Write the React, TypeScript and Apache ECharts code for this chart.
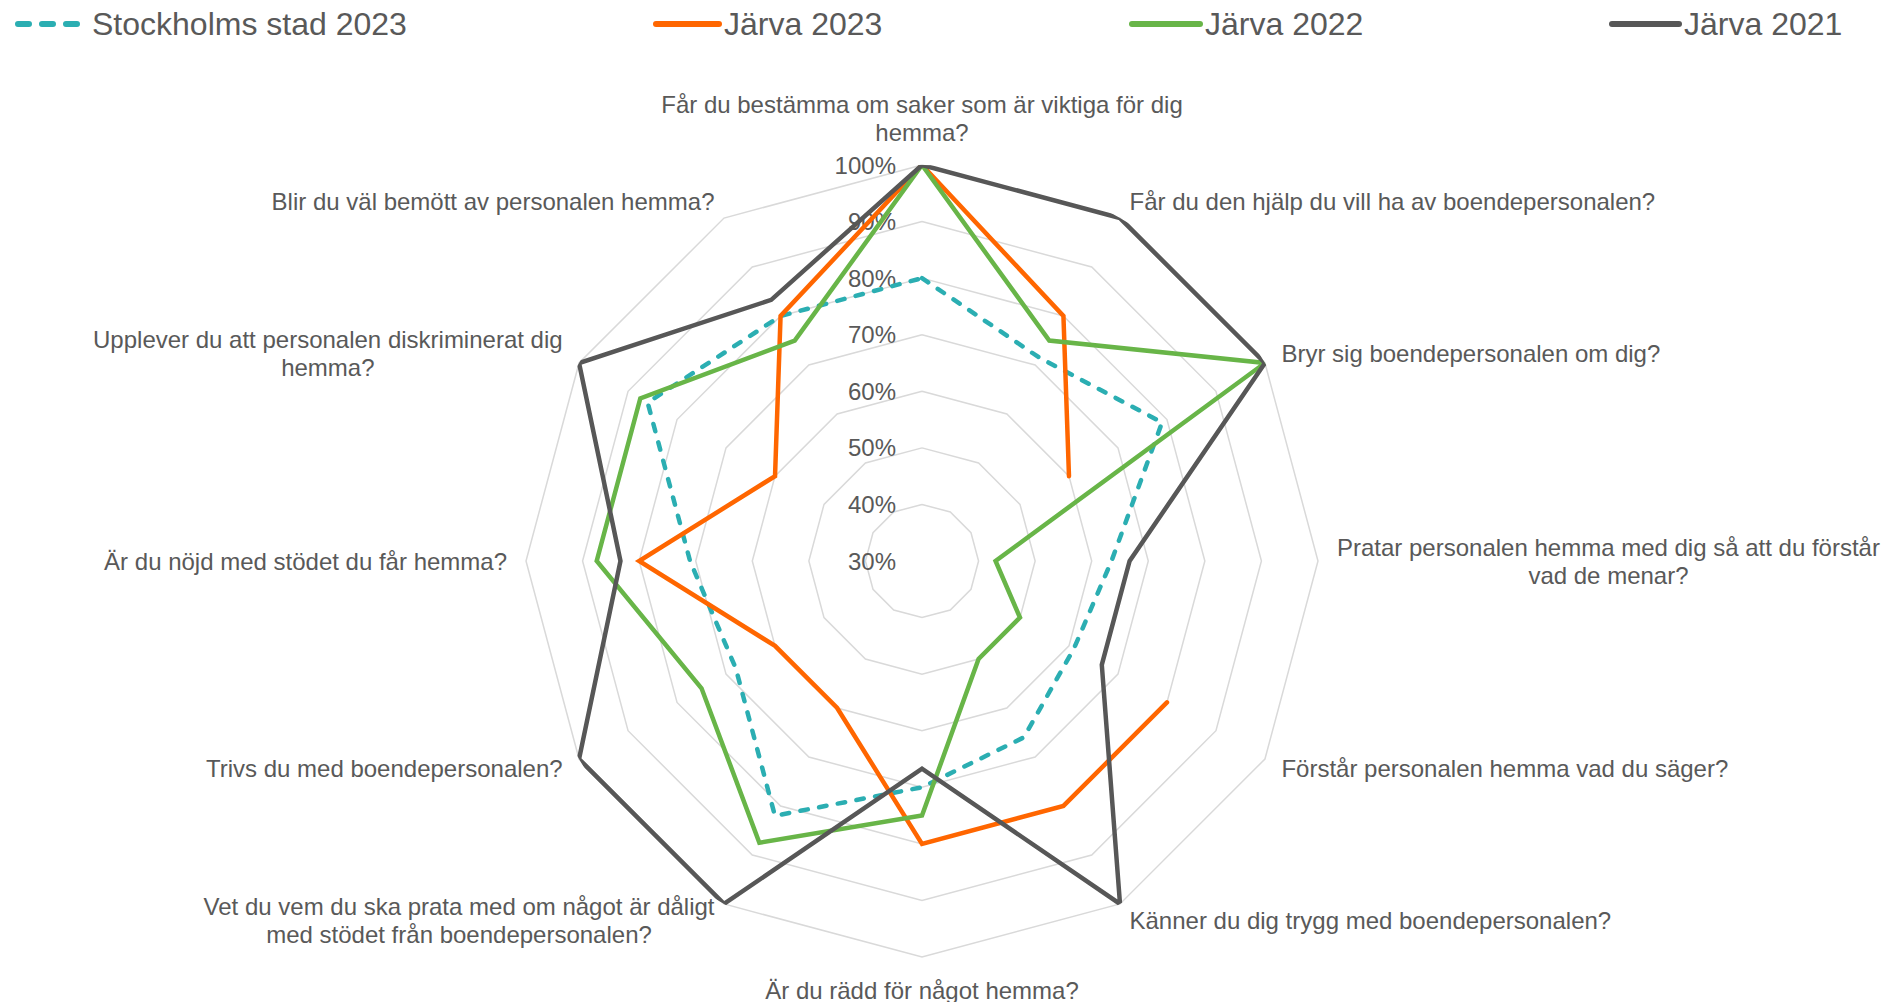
import React, { useEffect, useRef } from "react";
import * as echarts from "echarts";

// ---- Data -------------------------------------------------------------
const categories: string[] = [
  "Får du bestämma om saker som är viktiga för dig\nhemma?",
  "Får du den hjälp du vill ha av boendepersonalen?",
  "Bryr sig boendepersonalen om dig?",
  "Pratar personalen hemma med dig så att du förstår\nvad de menar?",
  "Förstår personalen hemma vad du säger?",
  "Känner du dig trygg med boendepersonalen?",
  "Är du rädd för något hemma?",
  "Vet du vem du ska prata med om något är dåligt\nmed stödet från boendepersonalen?",
  "Trivs du med boendepersonalen?",
  "Är du nöjd med stödet du får hemma?",
  "Upplever du att personalen diskriminerat dig\nhemma?",
  "Blir du väl bemött av personalen hemma?",
];

const seriesNames = ["Stockholms stad 2023", "Järva 2023", "Järva 2022", "Järva 2021"];

const stockholm2023: (number | null)[] = [0.8, 0.715, 0.79, 0.635, 0.61, 0.66, 0.7, 0.82, 0.68, 0.71, 0.86, 0.8];
const jarva2023: (number | null)[] = [1.0, 0.8, 0.6, null, 0.8, 0.8, 0.8, 0.6, 0.6, 0.8, 0.6, 0.8];
const jarva2022: (number | null)[] = [1.0, 0.75, 1.0, 0.43, 0.5, 0.5, 0.75, 0.875, 0.75, 0.875, 0.875, 0.75];
const jarva2021: (number | null)[] = [1.0, 1.0, 1.0, 0.667, 0.667, 1.0, 0.667, 1.0, 1.0, 0.833, 1.0, 0.833];

const tickValues = [0.3, 0.4, 0.5, 0.6, 0.7, 0.8, 0.9, 1.0];
const tickLabels = ["30%", "40%", "50%", "60%", "70%", "80%", "90%", "100%"];

// ---- Styles -----------------------------------------------------------
const FONT = "'Liberation Sans', Arial, sans-serif";
const TEXT = "#595959";
const COLORS = ["#2BAEB2", "#FF6600", "#68B548", "#575757"];
const CX = 922;
const CY = 561;
const R = 396;

export default function App() {
  const ref = useRef<HTMLDivElement>(null);

  useEffect(() => {
    if (!ref.current) return;
    const chart = echarts.init(ref.current, null, { renderer: "svg" });

    const n = categories.length;
    // radar runs counter-clockwise: reorder so the indicators go clockwise
    const order = [0];
    for (let i = n - 1; i >= 1; i--) order.push(i);
    const indicators = order.map((i) => ({
      name: categories[i],
      min: tickValues[0],
      max: tickValues[tickValues.length - 1],
    }));

    const allSeries = [stockholm2023, jarva2023, jarva2022, jarva2021];
    const toPolar = (arr: (number | null)[]) => {
      const pts: any[] = [];
      for (let i = 0; i <= n; i++) {
        const v = arr[i % n];
        pts.push([v == null ? "-" : v, (i * 360) / n]);
      }
      return pts;
    };

    const legendLefts = [15, 653, 1129, 1609];
    const legendWidths = [69, 63, 68, 67];

    const option: any = {
      animation: false,
      backgroundColor: "#ffffff",
      legend: seriesNames.map((name, k) => ({
        data: [name],
        left: legendLefts[k],
        top: 8,
        padding: 0,
        itemWidth: legendWidths[k],
        itemHeight: 6,
        selectedMode: false,
        itemStyle: { opacity: 0 },
        lineStyle:
          k === 0
            ? { type: [11, 13], cap: "round", width: 6, color: COLORS[0] }
            : { type: "solid", cap: "round", width: 6, color: COLORS[k] },
        textStyle: { fontSize: 32, color: TEXT, fontFamily: FONT },
      })),
      radar: {
        center: [CX, CY],
        radius: R,
        startAngle: 90,
        splitNumber: tickValues.length - 1,
        shape: "polygon",
        indicator: indicators,
        nameGap: 19,
        axisName: {
          color: TEXT,
          fontSize: 24,
          fontFamily: FONT,
          lineHeight: 28,
          formatter: (value: string) => {
            const lines = value.split("\n");
            if (lines.length === 1) return value;
            return lines.map((l) => `{c|${l}}`).join("\n");
          },
          rich: {
            c: {
              align: "center",
              color: TEXT,
              fontSize: 24,
              fontFamily: FONT,
              lineHeight: 28,
            },
          },
        },
        axisLine: { show: false },
        axisTick: { show: false },
        axisLabel: { show: false },
        splitArea: { show: false },
        splitLine: { lineStyle: { color: "#D9D9D9", width: 1.5 } },
      },
      polar: { center: [CX, CY], radius: R },
      angleAxis: {
        type: "value",
        min: 0,
        max: 360,
        startAngle: 90,
        clockwise: true,
        show: false,
      },
      radiusAxis: {
        type: "value",
        min: tickValues[0],
        max: tickValues[tickValues.length - 1],
        interval: 0.1,
        axisLine: { show: false },
        axisTick: { show: false },
        splitLine: { show: false },
        splitArea: { show: false },
        axisLabel: {
          show: true,
          margin: 26,
          fontSize: 24,
          color: TEXT,
          fontFamily: FONT,
          formatter: (v: number) => {
            const idx = tickValues.findIndex((t) => Math.abs(t - v) < 1e-6);
            return idx >= 0 ? tickLabels[idx] : "";
          },
        },
        z: 1,
      },
      series: allSeries.map((arr, k) => ({
        type: "line",
        name: seriesNames[k],
        coordinateSystem: "polar",
        data: toPolar(arr),
        symbol: "none",
        connectNulls: false,
        silent: true,
        z: 3 + k,
        itemStyle: { color: COLORS[k] },
        lineStyle: {
          color: COLORS[k],
          width: 4.5,
          type: k === 0 ? [7.5, 11.5] : "solid",
          cap: "round",
          join: "miter",
        },
      })),
    };

    chart.setOption(option);
    return () => chart.dispose();
  }, []);

  return (
    <div
      ref={ref}
      style={{
        position: "absolute",
        left: 0,
        top: 0,
        width: 1883,
        height: 1002,
        background: "#fff",
      }}
    />
  );
}
